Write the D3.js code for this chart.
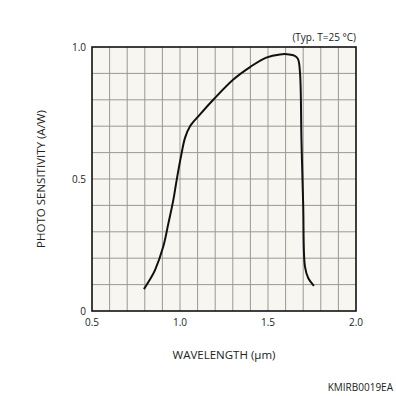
<!DOCTYPE html>
<html>
<head>
<meta charset="utf-8">
<script src="https://cdn.jsdelivr.net/npm/d3@7"></script>
<style>
  body { margin: 0; background: #fff; }
  text { font-family: "Open Sans", "Noto Sans", sans-serif; fill: #222; }
</style>
</head>
<body>
<svg width="396" height="396"></svg>
<script>
// wavelength (um) vs photo sensitivity (A/W)
var wavelength = [0.795, 0.83, 0.858, 0.905, 0.934, 0.962, 0.981, 1.009, 1.028, 1.057, 1.114, 1.193, 1.303, 1.4, 1.49, 1.568, 1.62, 1.65, 1.67, 1.682, 1.69, 1.70, 1.71, 1.729, 1.761];
var sensitivity = [0.083, 0.12, 0.155, 0.244, 0.332, 0.42, 0.496, 0.597, 0.655, 0.70, 0.745, 0.803, 0.877, 0.925, 0.96, 0.972, 0.972, 0.967, 0.955, 0.90, 0.65, 0.40, 0.168, 0.124, 0.095];
var xTicks = [0.5, 1.0, 1.5, 2.0];
var yTicks = [0, 0.5, 1.0];

var svg = d3.select("svg"),
    margin = {left: 92, top: 47, right: 40, bottom: 85},
    width = 264,
    height = 264,
    g = svg.append("g").attr("transform", "translate(" + margin.left + "," + margin.top + ")");

var x = d3.scaleLinear().domain([0.5, 2.0]).range([0, width]);
var y = d3.scaleLinear().domain([0, 1.0]).range([height, 0]);

g.append("rect")
    .attr("width", width)
    .attr("height", height)
    .attr("fill", "#f7f6f0");

// grid
g.selectAll(".vgrid")
    .data(d3.range(1, 15).map(function (i) { return 0.5 + i * 0.1; }))
    .enter().append("line")
    .attr("x1", function (d) { return x(d); })
    .attr("x2", function (d) { return x(d); })
    .attr("y1", 0).attr("y2", height)
    .attr("stroke", "#999").attr("stroke-width", 1);

g.selectAll(".hgrid")
    .data(d3.range(1, 10).map(function (i) { return i * 0.1; }))
    .enter().append("line")
    .attr("y1", function (d) { return y(d); })
    .attr("y2", function (d) { return y(d); })
    .attr("x1", 0).attr("x2", width)
    .attr("stroke", "#999").attr("stroke-width", 1);

g.append("rect")
    .attr("width", width)
    .attr("height", height)
    .attr("fill", "none")
    .attr("stroke", "#111")
    .attr("stroke-width", 1.6);

// tick labels
g.selectAll(".xlab")
    .data(xTicks)
    .enter().append("text")
    .attr("x", function (d) { return x(d); })
    .attr("y", height + 15)
    .attr("text-anchor", "middle")
    .attr("font-size", "10px")
    .text(function (d) { return d3.format(".1f")(d); });

g.selectAll(".ylab")
    .data(yTicks)
    .enter().append("text")
    .attr("x", -6)
    .attr("y", function (d) { return y(d); })
    .attr("dy", "0.35em")
    .attr("text-anchor", "end")
    .attr("font-size", "10px")
    .text(function (d) { return d === 0 ? "0" : d3.format(".1f")(d); });

// curve
var line = d3.line()
    .x(function (d) { return x(d[0]); })
    .y(function (d) { return y(d[1]); })
    .curve(d3.curveCatmullRom.alpha(0.5));

g.append("path")
    .datum(d3.zip(wavelength, sensitivity))
    .attr("d", line)
    .attr("fill", "none")
    .attr("stroke", "#111")
    .attr("stroke-width", 2);

// titles
svg.append("text")
    .attr("x", margin.left + width / 2)
    .attr("y", 359)
    .attr("text-anchor", "middle")
    .attr("font-size", "11.5px")
    .text("WAVELENGTH (\u00b5m)");

svg.append("text")
    .attr("transform", "translate(45," + (margin.top + height / 2) + ") rotate(-90)")
    .attr("text-anchor", "middle")
    .attr("font-size", "11.5px")
    .text("PHOTO SENSITIVITY (A/W)");

svg.append("text")
    .attr("x", margin.left + width)
    .attr("y", 41)
    .attr("text-anchor", "end")
    .attr("font-size", "10px")
    .text("(Typ. T=25 \u00b0C)");

svg.append("text")
    .attr("x", 393)
    .attr("y", 391)
    .attr("text-anchor", "end")
    .attr("font-size", "10px")
    .text("KMIRB0019EA");
</script>
</body>
</html>
